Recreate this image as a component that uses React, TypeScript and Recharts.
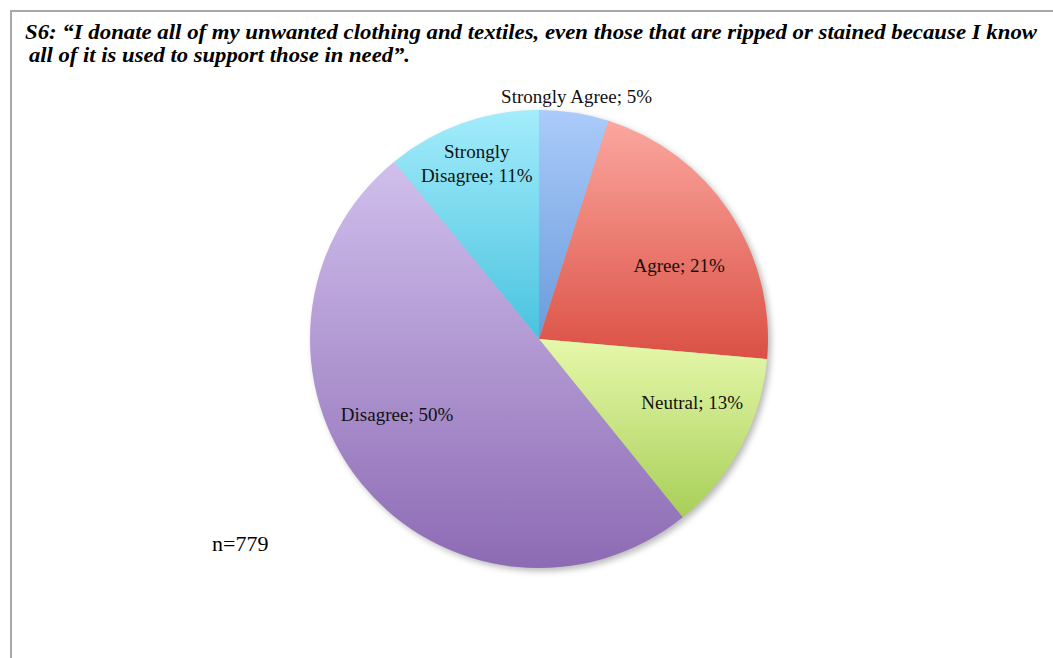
import React from 'react';
import { PieChart, Pie, Cell } from 'recharts';

const categories = ['Strongly Agree', 'Agree', 'Neutral', 'Disagree', 'Strongly Disagree'];
const shares = [4.9, 21.5, 12.8, 49.9, 10.9];
const labelPercents = ['5%', '21%', '13%', '50%', '11%'];
const titleLines = [
  'S6: \u201cI donate all of my unwanted clothing and textiles, even those that are ripped or stained because I know',
  'all of it is used to support those in need\u201d.',
];
const sampleNote = 'n=779';

const gradientStops = [
  ['#abcbfa', '#6a9bdb'],
  ['#fba79f', '#db5044'],
  ['#e6f8ab', '#a8cf58'],
  ['#d0bfec', '#8d6bb4'],
  ['#a3ecfb', '#4ac3df'],
];

const data = categories.map((name, i) => ({ name, value: shares[i], pct: labelPercents[i] }));

// label placement: [radius factor, angle offset (deg, clockwise)]
const labelPlace: [number, number][] = [
  [1.07, 0],
  [0.69, 6.2],
  [0.725, -5.4],
  [0.703, 10.9],
  [0.81, 0],
];

const RAD = Math.PI / 180;
const labelFont = '"Liberation Serif", "Times New Roman", serif';

const renderLabel = (props: any) => {
  const { cx, cy, midAngle, outerRadius, index, payload } = props;
  const [f, off] = labelPlace[index];
  const ang = midAngle - off;
  const r = outerRadius * f;
  const x = cx + r * Math.cos(-ang * RAD);
  const y = cy + r * Math.sin(-ang * RAD);
  const name = payload?.name ?? categories[index];
  const pct = payload?.pct ?? labelPercents[index];
  if (index === 4) {
    const parts = name.split(' ');
    return (
      <text x={x} y={y} textAnchor="middle" fontFamily={labelFont} fontSize={19} fill="#111">
        <tspan x={x} dy={-6}>{parts[0]}</tspan>
        <tspan x={x} dy={24}>{`${parts[1]}; ${pct}`}</tspan>
      </text>
    );
  }
  return (
    <text x={x} y={y} dy={6} textAnchor="middle" fontFamily={labelFont} fontSize={19} fill="#111">
      {`${name}; ${pct}`}
    </text>
  );
};

export default function App() {
  return (
    <div style={{ position: 'absolute', left: 0, top: 0, width: 1053, height: 658, background: '#fff' }}>
      <svg width={1053} height={658} style={{ position: 'absolute', left: 0, top: 0 }}>
        <defs>
          {gradientStops.map((g, i) => (
            <linearGradient key={i} id={`grad${i}`} x1="0" y1="0" x2="0" y2="1">
              <stop offset="0%" stopColor={g[0]} />
              <stop offset="100%" stopColor={g[1]} />
            </linearGradient>
          ))}
          <filter id="pieShadow" x="-20%" y="-20%" width="140%" height="140%">
            <feGaussianBlur stdDeviation="3" />
          </filter>
        </defs>
        <line x1={10} y1={11} x2={1053} y2={11} stroke="#a8a8a8" strokeWidth={2} />
        <line x1={11} y1={10} x2={11} y2={658} stroke="#a8a8a8" strokeWidth={2} />
        <text x={25} y={39} fontFamily='"Liberation Serif", "Times New Roman", serif' fontWeight="bold" fontStyle="italic" fontSize={20} fill="#000" textLength={1012} lengthAdjust="spacingAndGlyphs">
          {titleLines[0]}
        </text>
        <text x={29} y={62} fontFamily='"Liberation Serif", "Times New Roman", serif' fontWeight="bold" fontStyle="italic" fontSize={20} fill="#000" textLength={381} lengthAdjust="spacingAndGlyphs">
          {titleLines[1]}
        </text>
        <text x={212} y={551} fontFamily='"Liberation Serif", "Times New Roman", serif' fontSize={22} fill="#000">
          {sampleNote}
        </text>
      </svg>
      <div style={{ position: 'absolute', left: 0, top: 0 }}>
        <PieChart width={1053} height={658} margin={{ top: 0, right: 0, bottom: 0, left: 0 }}>
          <Pie
            data={data}
            dataKey="value"
            cx={542}
            cy={342}
            outerRadius={229}
            startAngle={90}
            endAngle={-270}
            stroke="none"
            isAnimationActive={false}
            label={false}
            labelLine={false}
          >
            {data.map((_, i) => (
              <Cell key={i} fill="#000" fillOpacity={0.28} filter="url(#pieShadow)" />
            ))}
          </Pie>
          <Pie
            data={data}
            dataKey="value"
            cx={539}
            cy={339}
            outerRadius={229}
            startAngle={90}
            endAngle={-270}
            stroke="none"
            isAnimationActive={false}
            label={renderLabel}
            labelLine={false}
          >
            {data.map((_, i) => (
              <Cell key={i} fill={`url(#grad${i})`} />
            ))}
          </Pie>
        </PieChart>
      </div>
    </div>
  );
}
